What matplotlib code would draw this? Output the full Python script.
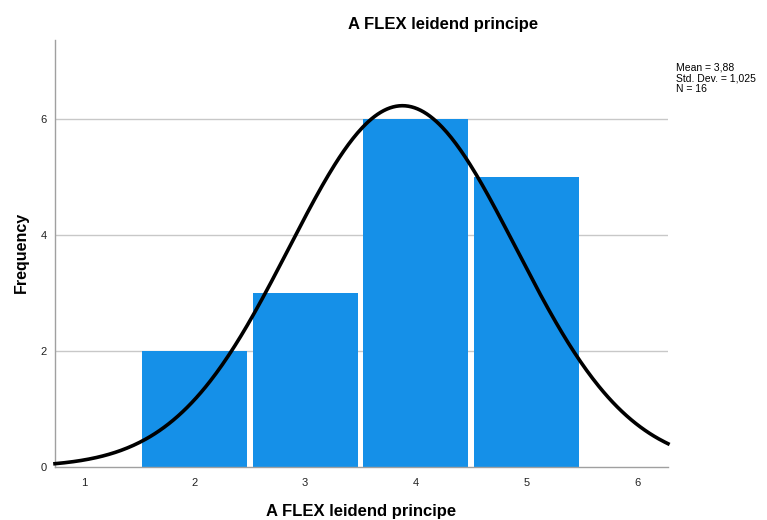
import numpy as np
import matplotlib
matplotlib.use("Agg")
import matplotlib.pyplot as plt

# Histogram data: score values and their frequencies
values = [2, 3, 4, 5]
counts = [2, 3, 6, 5]
mean_val = 3.88
std_val = 1.025
n_total = 16
x_ticks = [1, 2, 3, 4, 5, 6]
y_ticks = [0, 2, 4, 6]

title = "A FLEX leidend principe"

plt.rcParams["font.family"] = ["Liberation Sans", "DejaVu Sans"]

fig = plt.figure(figsize=(7.67, 5.20), dpi=100)
ax = fig.add_axes([55 / 767, 53 / 520, 613 / 767, 427 / 520])

ax.set_xlim(0.74, 6.28)
ax.set_ylim(0, 7.36)

for y in y_ticks[1:]:
    ax.axhline(y, color="#c8c8c8", lw=1.0, zorder=0)

ax.bar(values, counts, width=0.95, color="#1590e8", linewidth=0, zorder=2)

# Fitted normal curve scaled to counts (bin width 1)
xs = np.linspace(0.74, 6.28, 400)
pdf = np.exp(-0.5 * ((xs - mean_val) / std_val) ** 2) / (std_val * np.sqrt(2 * np.pi))
ax.plot(xs, n_total * pdf, color="black", lw=2.6, zorder=3, clip_on=False)

ax.set_xticks(x_ticks)
ax.set_yticks(y_ticks)
ax.tick_params(length=0, labelsize=8, colors="#222222", pad=8)
ax.tick_params(axis="y", pad=6)

for side in ["top", "right"]:
    ax.spines[side].set_visible(False)
for side in ["left", "bottom"]:
    ax.spines[side].set_color("#a0a0a0")
    ax.spines[side].set_linewidth(1.0)

fig.text(443 / 767, 1 - 25 / 520, title, fontsize=12, fontweight="bold",
         ha="center", va="center")
ax.set_xlabel(title, fontsize=12, fontweight="bold")
ax.xaxis.set_label_coords(0.5, -37 / 427)
ax.set_ylabel("Frequency", fontsize=11.5, fontweight="bold")
ax.yaxis.set_label_coords(-26 / 613, (467 - 252) / 427)

stats_text = "Mean = 3,88\nStd. Dev. = 1,025\nN = 16"
fig.text(676 / 767, 1 - 62 / 520, stats_text, fontsize=7.5, va="top", ha="left",
         linespacing=1.15)

fig.savefig("out.png", dpi=100, facecolor="white")
